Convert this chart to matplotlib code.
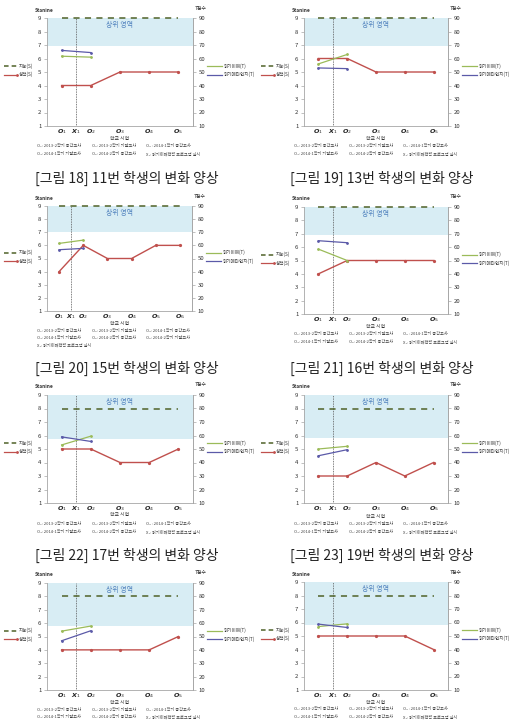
import matplotlib
matplotlib.use('Agg')
import matplotlib.pyplot as plt
from matplotlib.lines import Line2D

# ---------------- data ----------------
cats5 = ['O1', 'O2', 'O3', 'O4', 'O5']
cats6 = ['O1', 'O2', 'O3', 'O4', 'O5', 'O6']
tick_labels5 = [r'$\mathbfit{O}_{1}$', r'$\mathbfit{X}_{1}$', r'$\mathbfit{O}_{2}$', r'$\mathbfit{O}_{3}$',
                r'$\mathbfit{O}_{4}$', r'$\mathbfit{O}_{5}$']
tick_labels6 = tick_labels5 + [r'$\mathbfit{O}_{6}$']

# stanine grades (성적)
grade_p1 = [4, 4, 5, 5, 5]
grade_p2 = [6, 6, 5, 5, 5]
grade_p3 = [4, 6, 5, 5, 6, 6]
grade_p4 = [4, 5, 5, 5, 5]
grade_p5 = [5, 5, 4, 4, 5]
grade_p6 = [3, 3, 4, 3, 4]
grade_p7 = [4, 4, 4, 4, 5]
grade_p8 = [5, 5, 5, 5, 4]

# reading comprehension T-scores (읽기이해) at O1, O2
read_p1 = [61.7, 61.0]
read_p2 = [56.0, 63.0]
read_p3 = [61.5, 64.0]
read_p4 = [58.5, 50.0]
read_p5 = [53.0, 59.5]
read_p6 = [50.0, 52.0]
read_p7 = [54.0, 57.8]
read_p8 = [57.0, 59.0]

# reading metacognition T-scores (읽기메타인지) at O1, O2
meta_p1 = [66.0, 64.4]
meta_p2 = [53.0, 52.5]
meta_p3 = [56.7, 57.7]
meta_p4 = [64.8, 63.3]
meta_p5 = [59.0, 55.6]
meta_p6 = [45.0, 49.5]
meta_p7 = [46.8, 54.3]
meta_p8 = [58.8, 56.3]

# intelligence stanine (지능)
iq_levels = [9, 9, 9, 9, 8, 8, 8, 8]
# lower bound of the 상위 영역 band
upper_zone = [6.9, 6.9, 7.0, 6.9, 5.75, 5.8, 5.75, 5.8]

captions = ['[그림 18] 11번 학생의 변화 양상', '[그림 19] 13번 학생의 변화 양상',
            '[그림 20] 15번 학생의 변화 양상', '[그림 21] 16번 학생의 변화 양상',
            '[그림 22] 17번 학생의 변화 양상', '[그림 23] 19번 학생의 변화 양상']

foot5 = [['O₁: 2013-2학기 중간고사', 'O₂: 2013-2학기 기말고사', 'O₃ : 2014-1학기 중간고사'],
         ['O₄: 2014-1학기 기말고사', 'O₅: 2014-2학기 중간고사', 'X₁: 읽기이해전략 프로그램 실시']]
foot6 = [['O₁: 2013-2학기 중간고사', 'O₂: 2013-2학기 기말고사', 'O₃: 2014-1학기 중간고사'],
         ['O₄: 2014-1학기 기말고사', 'O₅: 2014-2학기 중간고사', 'O₆: 2014-2학기 기말고사'],
         ['X₁: 읽기이해전략 프로그램 실시']]

legend_left = ['지능(S)', '성적(S)']
legend_right = ['읽기이해(T)', '읽기메타인지(T)']

# ---------------- style / layout ----------------
KR = ['Noto Sans CJK KR', 'DejaVu Sans']
plt.rcParams['font.family'] = KR
plt.rcParams['mathtext.fontset'] = 'dejavusans'

RED = '#c0504d'
GREEN = '#9bbb59'
PURPLE = '#5b5aa8'
DGREEN = '#4f6228'
SHADE = '#d8edf4'
SPINE = '#a6a6a6'

W, H = 510, 724
fig = plt.figure(figsize=(W / 100, H / 100), dpi=100)


def fx(x):
    return x / W


def fy(y):
    return 1 - y / H


boxes = [(47, 193, 18, 126), (304, 448, 18, 126),
         (47, 192, 206, 311), (304, 448, 207, 314),
         (47, 193, 395, 503), (304, 448, 395, 503),
         (47, 193, 583, 690), (304, 448, 582, 690)]
xlabel_y = [138.5, 139, 323.5, 326, 515, 516, 702, 702]
foot_y = [(146, 154), (146, 154), (331, 338, 345), (334, 342),
          (524, 532), (524, 532), (710, 717), (709, 717)]
caption_pos = [(127, 178), (382, 178), (127, 368), (382, 368), (127, 555), (382, 555)]

panels = [
    (cats5, tick_labels5, grade_p1, read_p1, meta_p1, foot5),
    (cats5, tick_labels5, grade_p2, read_p2, meta_p2, foot5),
    (cats6, tick_labels6, grade_p3, read_p3, meta_p3, foot6),
    (cats5, tick_labels5, grade_p4, read_p4, meta_p4, foot5),
    (cats5, tick_labels5, grade_p5, read_p5, meta_p5, foot5),
    (cats5, tick_labels5, grade_p6, read_p6, meta_p6, foot5),
    (cats5, tick_labels5, grade_p7, read_p7, meta_p7, foot5),
    (cats5, tick_labels5, grade_p8, read_p8, meta_p8, foot5),
]


def fig_line(x0, x1, y, **kw):
    fig.add_artist(Line2D([fx(x0), fx(x1)], [fy(y), fy(y)], transform=fig.transFigure, **kw))


for i, (cats, tlabels, grade, read, meta, foot) in enumerate(panels):
    l, r, t, b = boxes[i]
    n = len(cats)
    ax = fig.add_axes([fx(l), fy(b), fx(r - l), (b - t) / H])
    ax.set_xlim(-0.5, n - 0.5)
    ax.set_ylim(1, 9)
    ax.axhspan(upper_zone[i], 9, color=SHADE, lw=0, zorder=0)
    ax.text((n - 1) / 2, 8.5, '상위 영역', ha='center', va='center',
            fontsize=5, style='italic', color='#4f81bd', zorder=3)
    ax.axvline(0.5, color='#555555', ls=(0, (1, 1)), lw=0.6, zorder=2)
    ax.hlines(iq_levels[i], 0, n - 1, colors=DGREEN, linestyles=(0, (4, 3.5)), lw=1.1, zorder=3,
              clip_on=False)
    ax.plot(range(n), grade, color=RED, lw=1.0, marker='o', ms=1.3, zorder=4)

    ax.set_yticks(range(1, 10))
    xt = [0, 0.5] + list(range(1, n))
    ax.set_xticks(xt)
    ax.set_xticklabels(tlabels, fontsize=4.6, color='#222222')
    ax.tick_params(axis='x', length=0, pad=1)
    ax.tick_params(axis='y', labelsize=4.3, length=2, width=0.5, color=SPINE, pad=2, labelcolor='#333333')
    ax.spines['top'].set_visible(False)
    for s in ['left', 'bottom', 'right']:
        ax.spines[s].set_color(SPINE)
        ax.spines[s].set_linewidth(0.6)

    ax2 = ax.twinx()
    ax2.set_ylim(10, 90)
    ax2.set_yticks(range(10, 100, 10))
    ax2.plot([0, 1], read, color=GREEN, lw=0.9, marker='o', ms=1.0, zorder=4)
    ax2.plot([0, 1], meta, color=PURPLE, lw=0.9, marker='o', ms=1.0, zorder=4)
    ax2.tick_params(axis='y', labelsize=4.3, length=2, width=0.5, color=SPINE, pad=2, labelcolor='#333333')
    for s in ['top', 'left', 'bottom']:
        ax2.spines[s].set_visible(False)
    ax2.spines['right'].set_color(SPINE)
    ax2.spines['right'].set_linewidth(0.6)

    # axis titles
    fig.text(fx(l - 3), fy(t - 8), 'Stanine', fontsize=3.5, weight='bold', ha='center', va='center', color='#333333')
    fig.text(fx(r + 8), fy(t - 10), 'T점수', fontsize=3.5, ha='center', va='center', color='#333333')
    fig.text(fx((l + r) / 2), fy(xlabel_y[i]), '학교 시험', fontsize=3.5, ha='center', va='center', color='#333333')

    # legends
    ly1 = t + 0.445 * (b - t)
    ly2 = t + 0.525 * (b - t)
    fig_line(l - 43, l - 30, ly1, color=DGREEN, lw=1.1, ls=(0, (3, 2)))
    fig.text(fx(l - 28), fy(ly1), legend_left[0], fontsize=3.3, va='center', color='#333333')
    fig_line(l - 43, l - 30, ly2, color=RED, lw=0.9, marker='o', ms=1.0, markevery=[1])
    fig.text(fx(l - 28), fy(ly2), legend_left[1], fontsize=3.3, va='center', color='#333333')
    fig_line(r + 14, r + 29, ly1, color=GREEN, lw=0.9)
    fig.text(fx(r + 31), fy(ly1), legend_right[0], fontsize=3.3, va='center', color='#333333')
    fig_line(r + 14, r + 29, ly2, color=PURPLE, lw=0.9)
    fig.text(fx(r + 31), fy(ly2), legend_right[1], fontsize=3.3, va='center', color='#333333')

    # footnotes
    cols = [l - 10, l + 45, l + 99]
    for row, yy in zip(foot, foot_y[i]):
        for c, txt in enumerate(row):
            fig.text(fx(cols[c]), fy(yy), txt, fontsize=3.0, va='center', color='#444444')

for (cx, cy), cap in zip(caption_pos, captions):
    fig.text(fx(cx), fy(cy), cap, fontsize=10, ha='center', va='center', color='#222222')

fig.savefig('out.png', dpi=100, facecolor='white')
